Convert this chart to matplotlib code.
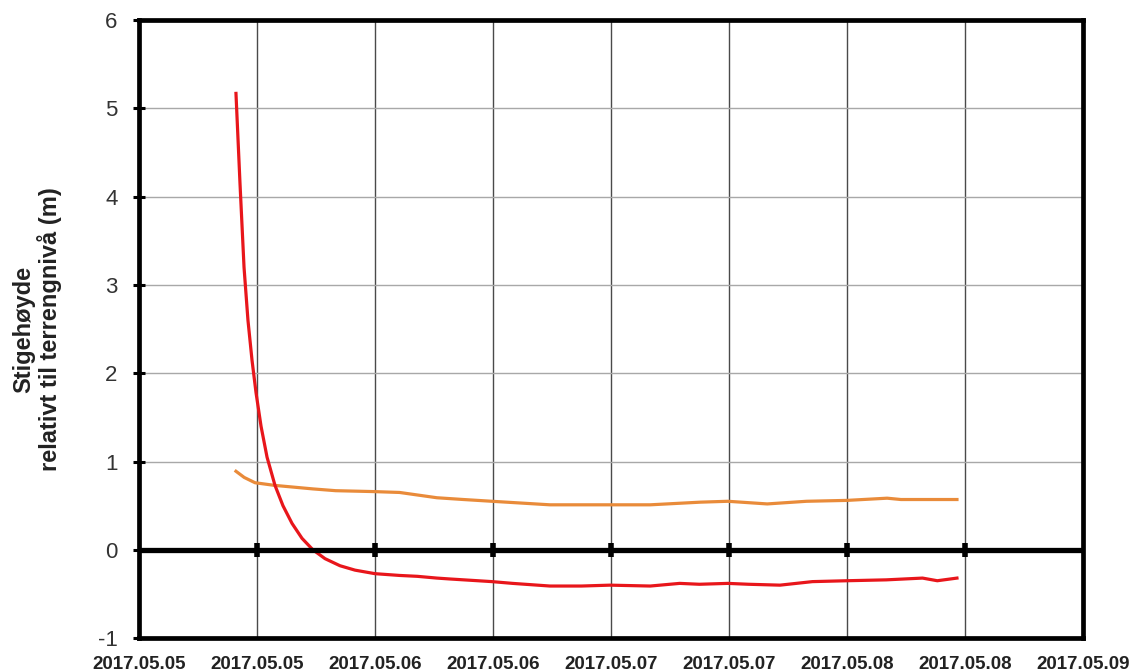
import numpy as np
import pandas as pd
import matplotlib
matplotlib.use("Agg")
import matplotlib.pyplot as plt
import matplotlib.dates as mdates

plt.rcParams['font.family'] = ['Liberation Sans', 'DejaVu Sans']
plt.rcParams['axes.unicode_minus'] = False

# logger readings, hours after 2017-05-05 00:00
red_hours = [9.86, 10.27, 10.68, 11.08, 11.49, 11.90, 12.41, 13.02, 13.83, 14.64, 15.56, 16.58,
             17.69, 18.92, 20.44, 21.97, 24.0, 26.5, 28.3, 30.3, 31.6, 35.9, 38.0, 41.8,
             45.0, 47.9, 52.0, 53.0, 55.0, 57.0, 59.9, 62.0, 65.2, 68.5, 72.0, 76.0,
             79.7, 81.2, 83.2]
red_level = [5.17, 4.15, 3.20, 2.60, 2.15, 1.78, 1.40, 1.05, 0.73, 0.50, 0.30, 0.13,
             0.00, -0.10, -0.18, -0.23, -0.27, -0.29, -0.30, -0.32, -0.33, -0.36, -0.38, -0.41,
             -0.41, -0.40, -0.41, -0.40, -0.38, -0.39, -0.38, -0.39, -0.40, -0.36, -0.35, -0.34,
             -0.32, -0.35, -0.32]

orange_hours = [9.86, 10.7, 11.8, 13.8, 17.7, 20.0, 23.8, 26.5, 30.3, 33.0, 35.9,
                41.8, 47.9, 52.0, 57.1, 59.9, 63.9, 67.9, 72.0, 76.1, 77.5, 83.2]
orange_level = [0.89, 0.82, 0.76, 0.73, 0.69, 0.67, 0.66, 0.65, 0.59, 0.57, 0.55,
                0.51, 0.51, 0.51, 0.54, 0.55, 0.52, 0.55, 0.56, 0.585, 0.57, 0.57]

start = pd.Timestamp("2017-05-05 00:00")
red_t = start + pd.to_timedelta(red_hours, unit="h")
orange_t = start + pd.to_timedelta(orange_hours, unit="h")

fig = plt.figure(figsize=(11.35, 6.71), dpi=100)
ax = fig.add_axes([0.1225, 0.049, 0.8315, 0.921])

ax.set_xlim(start, pd.Timestamp("2017-05-09 00:00"))
ax.set_ylim(-1, 6)
ax.xaxis.set_major_locator(mdates.HourLocator(byhour=[0, 12]))
ax.xaxis.set_major_formatter(mdates.DateFormatter("%Y.%m.%d"))
ax.set_yticks(range(-1, 7))

ax.grid(axis="y", color="#a8a8a8", linewidth=1.0)
ax.grid(axis="x", color="#4a4a4a", linewidth=1.0)
ax.set_axisbelow(True)

ax.plot(orange_t, orange_level, color="#E98B3A", linewidth=2.3, zorder=3,
        solid_joinstyle="round")
ax.plot(red_t, red_level, color="#E8161B", linewidth=2.3, zorder=4,
        solid_joinstyle="round")

# horizontal axis crossing at zero with its tick marks
ax.axhline(0, color="black", linewidth=3.8, zorder=5)
xt = ax.get_xticks()[1:-1]
ax.plot(xt, np.zeros(len(xt)), linestyle="none", marker="|", markersize=10,
        markeredgewidth=4, color="black", zorder=6)

for s in ax.spines.values():
    s.set_linewidth(3.4)
    s.set_color("black")

ax.tick_params(axis="y", direction="inout", length=9, width=2.2, labelsize=16,
               labelcolor="#333333", pad=11)
ax.tick_params(axis="x", length=0, labelsize=13.5, pad=13)
for lbl in ax.get_xticklabels():
    lbl.set_fontweight("bold")
    lbl.set_color("#222222")

ax.set_ylabel("Stigehøyde\nrelativt til terrengnivå (m)", fontsize=17,
              fontweight="bold", color="#222222", labelpad=26, linespacing=1.05)

fig.savefig("out.png", dpi=100)
